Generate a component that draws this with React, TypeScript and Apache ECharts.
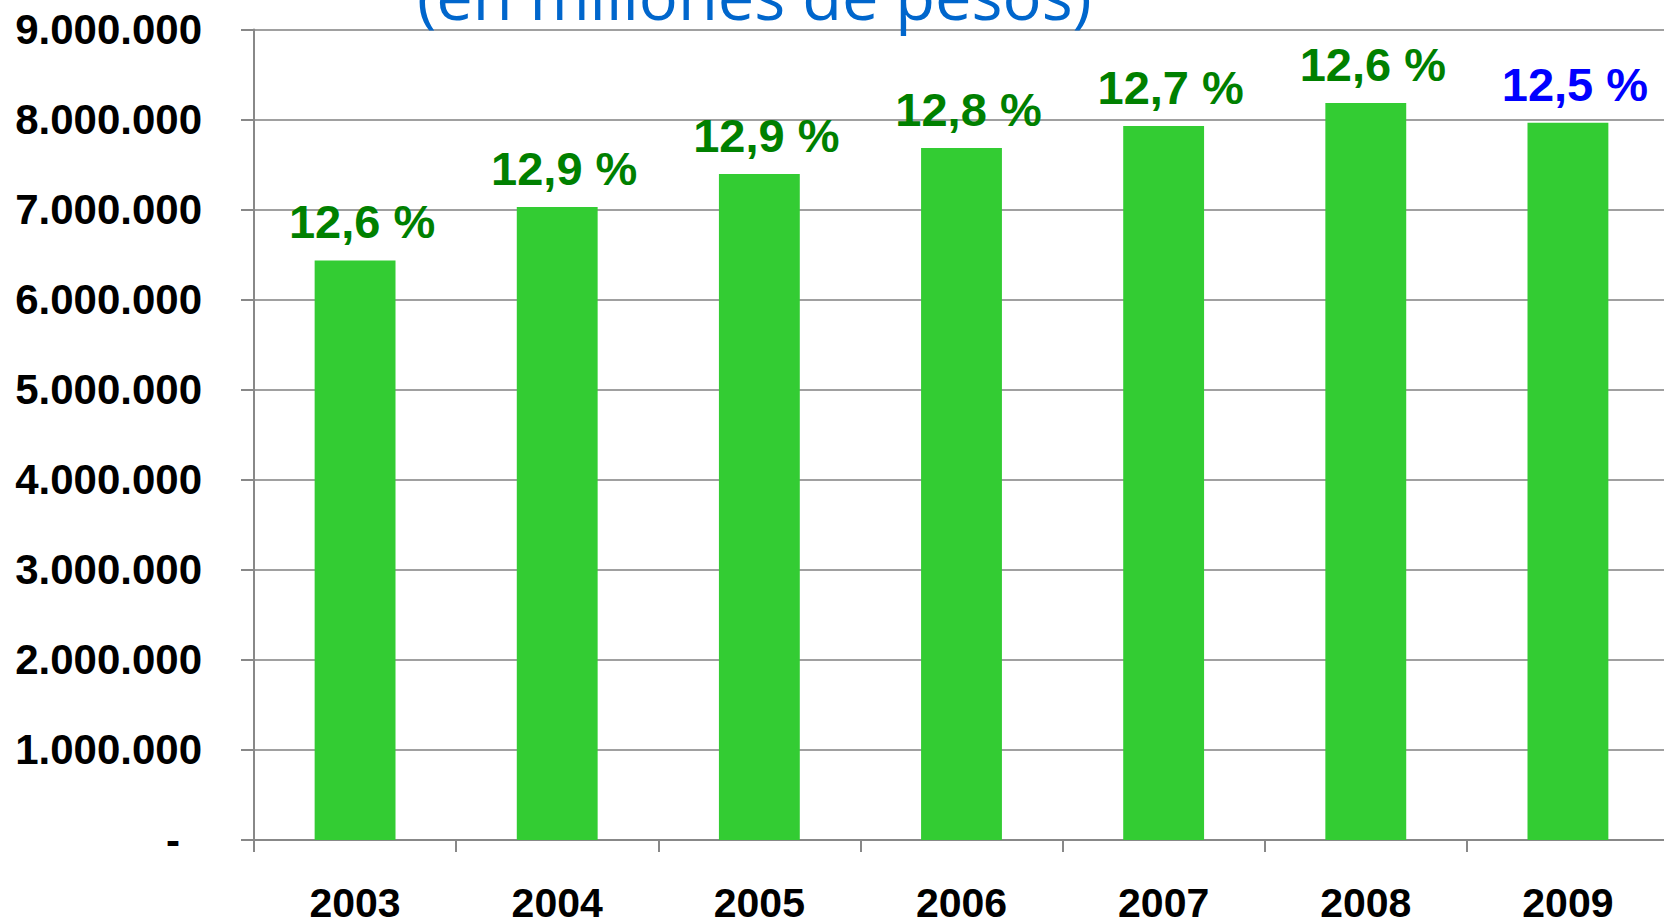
import React, { useEffect, useRef } from "react";
import * as echarts from "echarts";

const years = ["2003", "2004", "2005", "2006", "2007", "2008", "2009"];
const values = [6436000, 7028000, 7395000, 7684000, 7928000, 8184000, 7965000];
const pctLabels = ["12,6 %", "12,9 %", "12,9 %", "12,8 %", "12,7 %", "12,6 %", "12,5 %"];
const labelColors = ["#008000", "#008000", "#008000", "#008000", "#008000", "#008000", "#0000FF"];
const titleText = "(en millones de pesos)";

const fmt = (v: number) => String(Math.round(v)).replace(/\B(?=(\d{3})+(?!\d))/g, ".");

export default function App() {
  const ref = useRef<HTMLDivElement>(null);
  useEffect(() => {
    document.body.style.margin = "0";
    const chart = echarts.init(ref.current!, null, { renderer: "svg" });
    const font = "'Liberation Sans', Arial, sans-serif";
    chart.setOption({
      animation: false,
      backgroundColor: "#ffffff",
      grid: {
        left: 254,
        width: 1415,
        top: 29.5,
        bottom: 81,
        containLabel: false,
        outerBoundsMode: "none",
      },
      xAxis: {
        type: "category",
        data: years,
        boundaryGap: true,
        axisLine: { lineStyle: { color: "#888888", width: 2 } },
        axisTick: { show: true, length: 12, alignWithLabel: false, lineStyle: { color: "#888888", width: 2 } },
        axisLabel: {
          color: "#000",
          fontFamily: font,
          fontWeight: "bold",
          fontSize: 41,
          lineHeight: 35,
          margin: 45,
        },
        splitLine: { show: false },
      },
      yAxis: {
        type: "value",
        min: 0,
        max: 9000000,
        interval: 1000000,
        axisLine: { show: true, lineStyle: { color: "#888888", width: 2 } },
        axisTick: { show: true, length: 13, lineStyle: { color: "#888888", width: 2 } },
        axisLabel: {
          color: "#000",
          fontFamily: font,
          fontWeight: "bold",
          fontSize: 42,
          margin: 52,
          formatter: (v: number) => (v === 0 ? "{d|-}" : fmt(v)),
          rich: {
            d: { color: "#000", fontFamily: font, fontWeight: "bold", fontSize: 42, padding: [0, 22, 0, 0] },
          },
        },
        splitLine: { show: true, lineStyle: { color: "#a0a0a0", width: 2 } },
      },
      series: [
        {
          type: "bar",
          barWidth: "40%",
          data: values.map((v, i) => ({
            value: v,
            label: {
              show: true,
              position: "top",
              distance: 15,
              offset: [7, 0],
              formatter: pctLabels[i],
              color: labelColors[i],
              fontFamily: font,
              fontWeight: "bold",
              fontSize: 47,
            },
          })),
          itemStyle: { color: "#33CC33" },
        },
      ],
      graphic: [
        {
          type: "text",
          left: 417,
          top: -38,
          z: 100,
          style: {
            text: titleText,
            fill: "#0066CC",
            font: "65px 'Open Sans', sans-serif",
          },
        },
      ],
    });
    return () => chart.dispose();
  }, []);
  return (
    <div
      ref={ref}
      style={{ position: "absolute", left: 0, top: 0, width: 1664, height: 921 }}
    />
  );
}
